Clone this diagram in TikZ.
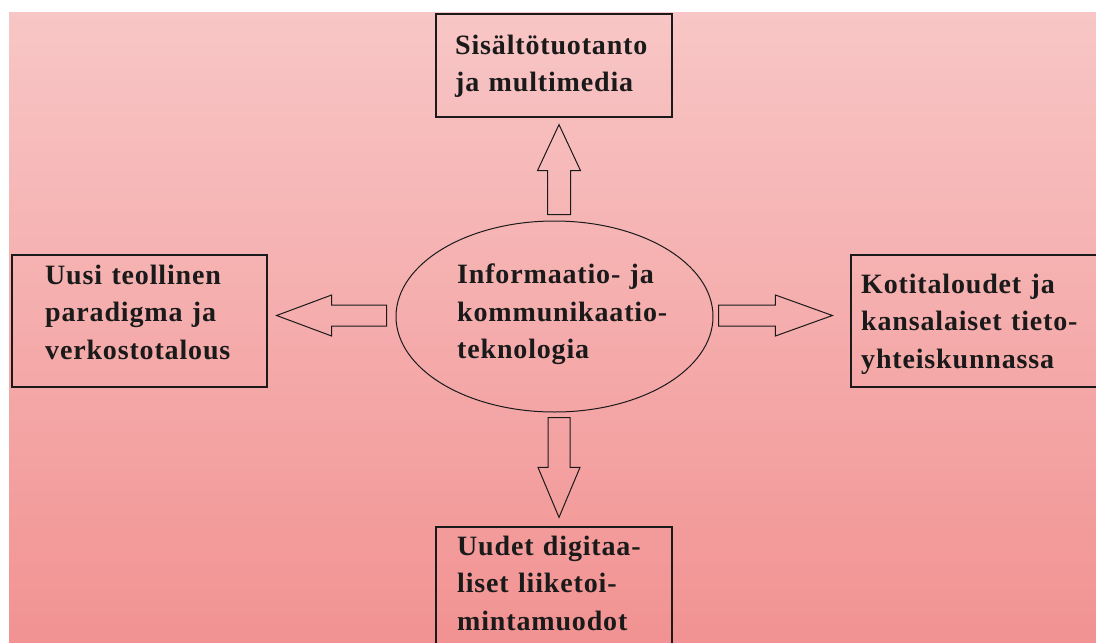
\documentclass[tikz,border=0pt]{standalone}
\usepackage{fontspec}
\setmainfont{Liberation Serif}[LetterSpace=3]
\usetikzlibrary{calc,shapes.geometric}

\definecolor{inkline}{HTML}{1A1A1A}
\definecolor{pinktop}{HTML}{F8C6C6}
\definecolor{pinkbottom}{HTML}{F29292}

\tikzset{
  topicbox/.style={draw=inkline, line width=1.2pt, rectangle, inner sep=0pt},
  hubshape/.style={draw=inkline, line width=1pt, ellipse, inner sep=0pt,
    minimum width=317pt, minimum height=191pt},
  label/.style={anchor=base west, inner sep=0pt, text width=260pt, align=left,
    text=inkline, font=\fontsize{28}{37.5}\selectfont\bfseries},
  arrowline/.style={draw=inkline, line width=1pt, line join=miter},
}

% hollow block arrow: #1 tail, #2 tip, #3 head length, #4 half shaft width, #5 half head width
\newcommand\blockarrow[5]{%
  \path coordinate (hb) at ($(#2)!#3!(#1)$);
  \draw[arrowline]
    ($(#1)!#4!90:(#2)$) -- ($(#1)!#4!-90:(#2)$) --
    ($(hb)!#4!-90:(#2)$) -- ($(hb)!#5!-90:(#2)$) -- (#2) --
    ($(hb)!#5!90:(#2)$) -- ($(hb)!#4!90:(#2)$) -- cycle;
}

\begin{document}
\begin{tikzpicture}[x=1pt,y=1pt]
  % page and gradient backdrop
  \clip (0,0) rectangle (1096,-643);
  \fill[white] (0,0) rectangle (1096,-643);
  \shade[top color=pinktop, bottom color=pinkbottom] (9,-12) rectangle (1096,-643);

  % central hub
  \node[hubshape] (ict) at (554.5,-316.5) {};
  \node[label] (ictT) at (457,-283.5) {Informaatio- ja\\kommunikaatio-\\teknologia};

  % surrounding topics
  \node[topicbox, minimum width=236pt, minimum height=103pt] (top) at (554,-65.5) {};
  \node[label] (topT) at (455,-54) {Sisältötuotanto\\ja multimedia};

  \node[topicbox, minimum width=255pt, minimum height=132pt] (left) at (139.5,-321) {};
  \node[label] (leftT) at (45,-284) {Uusi teollinen\\paradigma ja\\verkostotalous};

  \node[topicbox, minimum width=247pt, minimum height=132pt] (right) at (974.5,-321) {};
  \node[label] (rightT) at (861,-293) {Kotitaloudet ja\\kansalaiset tieto-\\yhteiskunnassa};

  \node[topicbox, minimum width=236pt, minimum height=134pt] (bottom) at (554,-594) {};
  \node[label] (bottomT) at (457,-555) {Uudet digitaa-\\liset liiketoi-\\mintamuodot};

  % arrow end points
  \coordinate (upS) at ($(ict.north)+(4.5,6)$);
  \coordinate (upT) at ($(top.south)+(5,-7)$);
  \coordinate (dnS) at ($(ict.south)+(4.5,-5)$);
  \coordinate (dnT) at ($(bottom.north)+(5,9)$);
  \coordinate (lfS) at ($(ict.west)+(-9,1)$);
  \coordinate (lfT) at ($(left.east)+(9,5.5)$);
  \coordinate (rtS) at ($(ict.east)+(5,1)$);
  \coordinate (rtT) at ($(right.west)+(-18,5.5)$);

  % hollow block arrows
  \blockarrow{upS}{upT}{46pt}{11.5pt}{21.5pt}
  \blockarrow{dnS}{dnT}{50pt}{11pt}{21pt}
  \blockarrow{lfS}{lfT}{55pt}{10.5pt}{20.5pt}
  \blockarrow{rtS}{rtT}{57pt}{10.5pt}{20.5pt}
\end{tikzpicture}
\end{document}
